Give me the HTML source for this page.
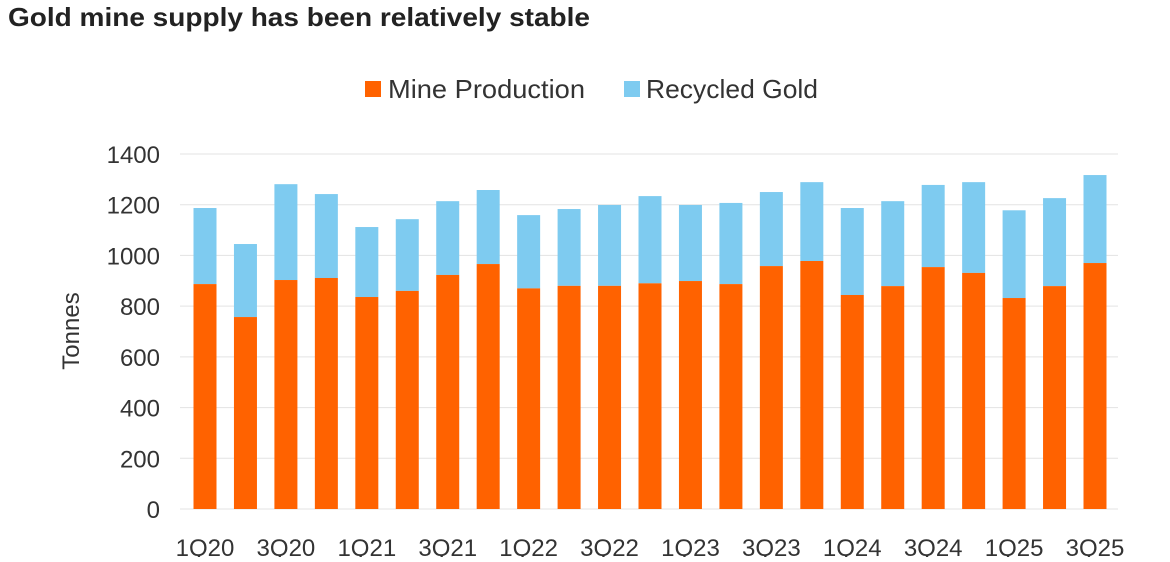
<!DOCTYPE html>
<html><head><meta charset="utf-8"><style>
body{margin:0;background:#fff;width:1170px;height:557px;overflow:hidden;font-family:"Liberation Sans",sans-serif}
</style></head><body>
<svg id="c" width="1170" height="557">
<text x="8" y="26" font-size="26" font-weight="bold" fill="#222" textLength="582" lengthAdjust="spacingAndGlyphs">Gold mine supply has been relatively stable</text>
<g>
<rect x="365" y="81" width="16" height="16" fill="#ff6200"/>
<text x="388" y="98" font-size="26" fill="#333" textLength="197" lengthAdjust="spacingAndGlyphs">Mine Production</text>
<rect x="624" y="81" width="16" height="16" fill="#7ecbf0"/>
<text x="646" y="98" font-size="26" fill="#333" textLength="172" lengthAdjust="spacingAndGlyphs">Recycled Gold</text>
</g>
<text transform="translate(79,331) rotate(-90)" text-anchor="middle" font-size="24" fill="#333">Tonnes</text>
<g id="grid"></g><g id="bars"></g><g id="xl"></g>
</svg>
<script>
const categories=["1Q20","2Q20","3Q20","4Q20","1Q21","2Q21","3Q21","4Q21","1Q22","2Q22","3Q22","4Q22","1Q23","2Q23","3Q23","4Q23","1Q24","2Q24","3Q24","4Q24","1Q25","2Q25","3Q25"];
const mine=[887,757,903,911,836,860,923,966,870,880,880,890,899,887,958,978,844,879,954,931,832,879,970];
const total=[1187,1045,1281,1242,1112,1143,1214,1258,1159,1183,1199,1234,1199,1207,1250,1289,1187,1214,1278,1289,1178,1226,1317];
const yTicks=[0,200,400,600,800,1000,1200,1400];
const NS="http://www.w3.org/2000/svg";
const y=v=>509-v*(355/1400);
const x=i=>205+i*(890/22);
function mk(t,a,p){const e=document.createElementNS(NS,t);for(const k in a)e.setAttribute(k,a[k]);p.appendChild(e);return e;}
const g=document.getElementById('grid'),b=document.getElementById('bars'),xl=document.getElementById('xl');
yTicks.forEach(v=>{
 const l=mk('line',{x1:180,x2:1118,y1:y(v),y2:y(v),stroke:'#e3e3e3','stroke-width':1},g);
 
 
 const t=mk('text',{x:160,y:y(v)+9,'text-anchor':'end','font-size':24,fill:'#333'},g);
 t.textContent=v;
 
 
});
categories.forEach((c,i)=>{
 const w=23;
 const r1=mk('rect',{x:x(i)-w/2,y:y(total[i]),width:w,height:y(mine[i])-y(total[i]),fill:'#7ecbf0'},b);
 
 
 const r2=mk('rect',{x:x(i)-w/2,y:y(mine[i]),width:w,height:y(0)-y(mine[i]),fill:'#ff6200'},b);
 
 
 if(i%2===0){
  const t=mk('text',{x:x(i),y:556,'text-anchor':'middle','font-size':24,fill:'#333'},xl);
  t.textContent=c;
  
  
 }
});
</script>
</body></html>
